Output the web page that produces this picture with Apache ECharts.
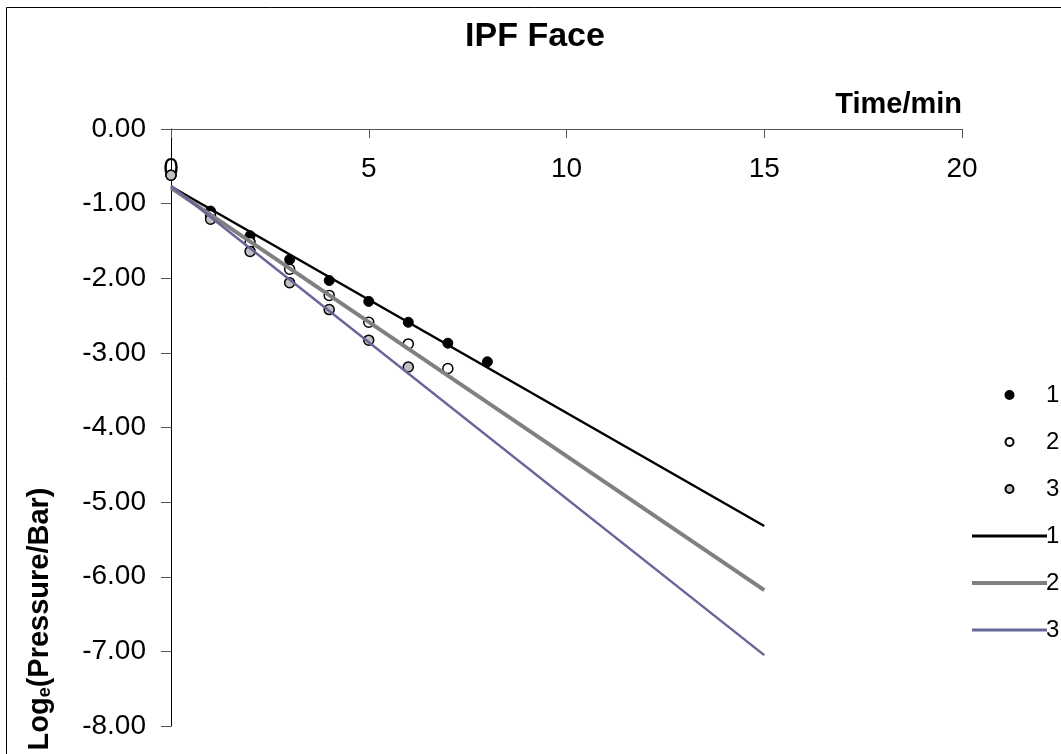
<!DOCTYPE html>
<html>
<head>
<meta charset="utf-8">
<script src="https://cdn.jsdelivr.net/npm/echarts@6/dist/echarts.min.js"></script>
<style>
html,body{margin:0;padding:0;background:#fff;}
#c{width:1061px;height:754px;}
</style>
</head>
<body>
<div id="c"></div>
<script>
// ---- data ----
var xTicks = [0, 5, 10, 15, 20];
var seriesNames = ['1', '2', '3'];
var time1 = [0, 1, 2, 3, 4, 5, 6, 7, 8];
var logP1 = [-0.62, -1.10, -1.43, -1.75, -2.03, -2.31, -2.59, -2.87, -3.12];
var time2 = [0, 1, 2, 3, 4, 5, 6, 7];
var logP2 = [-0.62, -1.16, -1.52, -1.88, -2.23, -2.59, -2.88, -3.21];
var time3 = [0, 1, 2, 3, 4, 5, 6];
var logP3 = [-0.62, -1.21, -1.64, -2.06, -2.42, -2.83, -3.19];
var trendTime = [0, 15];
var trend1 = [-0.77, -5.32];
var trend2 = [-0.79, -6.18];
var trend3 = [-0.76, -7.05];

function pairs(xs, ys) { return xs.map(function (x, i) { return [x, ys[i]]; }); }

var FONT = '"Liberation Sans", Arial, sans-serif';
var chart = echarts.init(document.getElementById('c'), null, {renderer: 'canvas'});

var lineLegendStyle = {opacity: 0, color: 'transparent', borderWidth: 0};

var option = {
  backgroundColor: '#fff',
  animation: false,
  grid: {left: 171, right: 99, top: 129, bottom: 28, containLabel: false},
  xAxis: {
    type: 'value', position: 'top', min: 0, max: 20, interval: 5,
    axisLine: {show: true, onZero: false, lineStyle: {color: '#555', width: 1}},
    axisTick: {show: true, inside: true, length: 9, lineStyle: {color: '#555'}},
    axisLabel: {inside: true, margin: 26, color: '#000', fontSize: 28, fontFamily: FONT,
      customValues: xTicks, formatter: function (v) { return String(v); }},
    splitLine: {show: false}
  },
  yAxis: {
    type: 'value', min: -8, max: 0, interval: 1,
    axisLine: {show: true, onZero: false, lineStyle: {color: '#000', width: 1}},
    axisTick: {show: true, inside: false, length: 10, lineStyle: {color: '#555'}},
    axisLabel: {margin: 25, color: '#000', fontSize: 28, fontFamily: FONT,
      formatter: function (v) { return v.toFixed(2); }},
    splitLine: {show: false}
  },
  legend: {
    orient: 'vertical', left: 965, top: 378,
    itemWidth: 75, itemHeight: 8, itemGap: 23,
    textStyle: {fontSize: 24, fontFamily: FONT, color: '#000', padding: [0, 0, 0, -6]},
    formatter: function (n) { return n.slice(1); },
    data: [
      {name: 'P1', itemStyle: {color: '#000', borderColor: '#000'}},
      {name: 'P2'},
      {name: 'P3'},
      {name: 'L1', itemStyle: lineLegendStyle, lineStyle: {color: '#000', width: 3, opacity: 1}},
      {name: 'L2', itemStyle: lineLegendStyle, lineStyle: {color: '#808080', width: 4, opacity: 1}},
      {name: 'L3', itemStyle: lineLegendStyle, lineStyle: {color: '#666699', width: 3, opacity: 1}}
    ]
  },
  series: [
    {name: 'P1', type: 'scatter', data: pairs(time1, logP1), symbol: 'circle', symbolSize: 10, z: 2,
      itemStyle: {color: '#000', borderColor: '#000', borderWidth: 1, opacity: 1}},
    {name: 'P2', type: 'scatter', data: pairs(time2, logP2), symbol: 'circle', symbolSize: 10, z: 2,
      itemStyle: {color: '#fff', borderColor: '#000', borderWidth: 1.5, opacity: 1}},
    {name: 'P3', type: 'scatter', data: pairs(time3, logP3), symbol: 'circle', symbolSize: 10, z: 2,
      itemStyle: {color: '#c0c0c0', borderColor: '#000', borderWidth: 1.5, opacity: 1}},
    {name: 'L1', type: 'line', data: pairs(trendTime, trend1), showSymbol: false, symbol: 'none', z: 3,
      lineStyle: {color: '#000', width: 2.5}, itemStyle: {color: '#000'}},
    {name: 'L2', type: 'line', data: pairs(trendTime, trend2), showSymbol: false, symbol: 'none', z: 3,
      lineStyle: {color: '#808080', width: 4}, itemStyle: {color: '#808080'}},
    {name: 'L3', type: 'line', data: pairs(trendTime, trend3), showSymbol: false, symbol: 'none', z: 3,
      lineStyle: {color: '#666699', width: 2.5}, itemStyle: {color: '#666699'}}
  ],
  graphic: [
    {type: 'rect', z: 100, silent: true,
      shape: {x: 6.5, y: 7.5, width: 1100, height: 800},
      style: {fill: 'none', stroke: '#000', lineWidth: 1}},
    {type: 'text', x: 535, y: 37, z: 100,
      style: {text: 'IPF Face', fill: '#000', font: 'bold 34px ' + FONT, align: 'center', verticalAlign: 'middle'}},
    {type: 'text', x: 962, y: 105, z: 100,
      style: {text: 'Time/min', fill: '#000', font: 'bold 29px ' + FONT, align: 'right', verticalAlign: 'middle'}},
    {type: 'text', x: 37, y: 619, rotation: Math.PI / 2, z: 100,
      style: {
        text: '{a|Log}{s|e}{a|(Pressure/Bar)}',
        align: 'center', verticalAlign: 'middle',
        rich: {
          a: {fontSize: 29, fontWeight: 'bold', fontFamily: FONT, fill: '#000', color: '#000', lineHeight: 34, verticalAlign: 'bottom'},
          s: {fontSize: 18, fontWeight: 'bold', fontFamily: FONT, fill: '#000', color: '#000', lineHeight: 30, verticalAlign: 'bottom'}
        }
      }}
  ]
};
chart.setOption(option);
</script>
</body>
</html>
